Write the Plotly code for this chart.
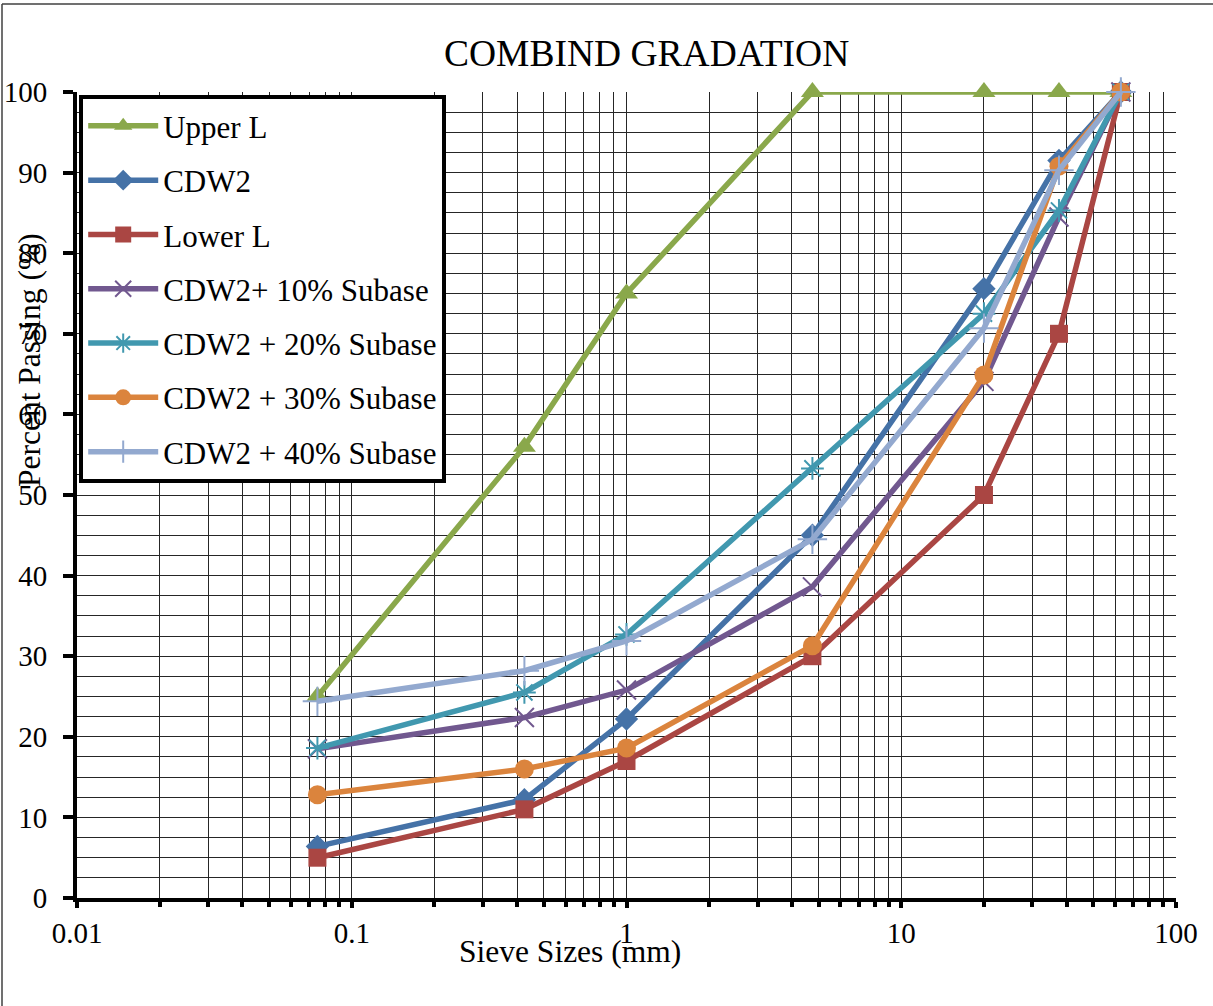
import plotly.graph_objects as go

# Sieve sizes (mm) and percent passing for each gradation curve
sieve_mm = [0.075, 0.425, 1.0, 4.75, 20, 37.5, 63]

upper_l = [25, 56, 75, 100, 100, 100, 100]
cdw2 = [6.4, 12.2, 22.2, 45.0, 75.6, 91.5, 100]
lower_l = [5.0, 11.0, 17.0, 30.0, 50.0, 70.0, 100]
cdw2_10 = [18.5, 22.4, 25.8, 38.6, 64.1, 84.5, 100]
cdw2_20 = [18.6, 25.5, 32.7, 53.3, 72.5, 85.3, 100]
cdw2_30 = [12.8, 16.0, 18.6, 31.3, 64.9, 90.8, 100]
cdw2_40 = [24.4, 28.2, 31.9, 44.5, 70.7, 90.3, 100]

x_tick_vals = [0.01, 0.1, 1, 10, 100]
x_tick_text = ["0.01", "0.1", "1", "10", "100"]
y_tick_vals = [0, 10, 20, 30, 40, 50, 60, 70, 80, 90, 100]

FONT = "Liberation Serif, Times New Roman, serif"

series = [
    ("Upper L", upper_l, "#8AA84B", dict(symbol="triangle-up", size=20)),
    ("CDW2", cdw2, "#4572A7", dict(symbol="diamond", size=18)),
    ("Lower L", lower_l, "#AA4643", dict(symbol="square", size=18)),
    ("CDW2+ 10% Subase", cdw2_10, "#71588F", dict(symbol="x-thin", size=19)),
    ("CDW2 + 20% Subase", cdw2_20, "#4198AF", dict(symbol="asterisk", size=19)),
    ("CDW2 + 30% Subase", cdw2_30, "#DB843D", dict(symbol="circle", size=19)),
    ("CDW2 + 40% Subase", cdw2_40, "#93A9CF", dict(symbol="cross-thin", size=21)),
]

fig = go.Figure()
for i, (name, vals, color, mk) in enumerate(series):
    marker = dict(color=color, **mk)
    if mk["symbol"] in ("x-thin", "asterisk", "cross-thin"):
        marker["line"] = dict(color=color, width=2)
    fig.add_trace(go.Scatter(
        x=sieve_mm, y=vals, name=name, mode="lines+markers",
        line=dict(color=color, width=5.5),
        marker=marker,
        legendgroup=f"g{i}",
        cliponaxis=False,
    ))

# minor positions 2..9 within each decade
minor_vals = [m * d for d in (0.01, 0.1, 1, 10) for m in range(2, 10)]

grid_color = "#262626"

fig.update_layout(
    width=1213, height=1006,
    margin=dict(l=77, r=37, t=92, b=108, autoexpand=False),
    paper_bgcolor="white", plot_bgcolor="white",
    font=dict(family=FONT, color="black", size=29),
    showlegend=True,
    legend=dict(
        x=0.002, y=0.996, xanchor="left", yanchor="top",
        bgcolor="white", bordercolor="black", borderwidth=4,
        font=dict(family=FONT, size=31, color="black"),
        itemwidth=70, tracegroupgap=11,
    ),
    xaxis=dict(
        type="log", range=[-2, 2], automargin=False,
        tickmode="array", tickvals=x_tick_vals, ticktext=x_tick_text,
        ticks="outside", ticklen=6, tickwidth=4, tickcolor="black",
        showline=True, linewidth=4, linecolor="black",
        showgrid=True, gridcolor=grid_color, gridwidth=1,
        zeroline=False,
        tickfont=dict(family=FONT, size=29, color="black"),
        minor=dict(tickmode="array", tickvals=minor_vals, ticks="outside",
                   ticklen=5, tickwidth=4, tickcolor="black",
                   showgrid=True, gridcolor=grid_color, gridwidth=1),
    ),
    yaxis=dict(
        range=[0, 100], automargin=False,
        tickmode="array", tickvals=y_tick_vals,
        ticks="outside", ticklen=10, tickwidth=4, tickcolor="black",
        ticklabelstandoff=10,
        showline=True, linewidth=4, linecolor="black",
        showgrid=True, gridcolor=grid_color, gridwidth=1,
        zeroline=False,
        tickfont=dict(family=FONT, size=29, color="black"),
        minor=dict(dtick=2.5, tick0=0, showgrid=True, gridcolor=grid_color,
                   gridwidth=1, ticks=""),
    ),
    annotations=[
        dict(text="COMBIND GRADATION", xref="paper", yref="paper",
             x=(646 - 77) / 1099, y=(898 - 53) / 806, xanchor="center",
             yanchor="middle", showarrow=False,
             font=dict(family=FONT, size=37.5, color="black")),
        dict(text="Sieve Sizes (mm)", xref="paper", yref="paper",
             x=(570 - 77) / 1099, y=(898 - 951) / 806, xanchor="center",
             yanchor="middle", showarrow=False,
             font=dict(family=FONT, size=31.5, color="black")),
        dict(text="Percent Passing (%)", xref="paper", yref="paper",
             x=(29 - 77) / 1099, y=(898 - 360) / 806, xanchor="center",
             yanchor="middle", showarrow=False, textangle=-90,
             font=dict(family=FONT, size=31.5, color="black")),
    ],
    shapes=[
        dict(type="line", xref="paper", yref="paper",
             x0=(2 - 77) / 1099, x1=(1213 - 77) / 1099,
             y0=(898 - 4) / 806, y1=(898 - 4) / 806,
             line=dict(color="#404040", width=1.5)),
        dict(type="line", xref="paper", yref="paper",
             x0=(2 - 77) / 1099, x1=(2 - 77) / 1099,
             y0=(898 - 4) / 806, y1=(898 - 1006) / 806,
             line=dict(color="#404040", width=1.5)),
    ],
)

fig.write_html("out.html")
